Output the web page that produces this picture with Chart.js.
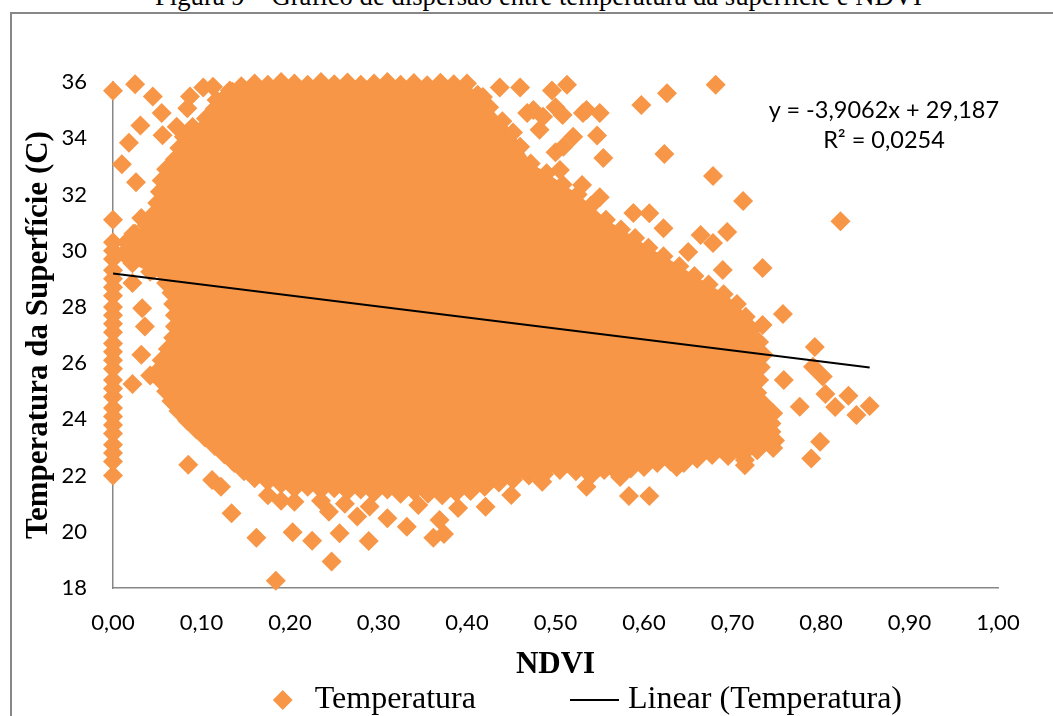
<!DOCTYPE html>
<html lang="pt">
<head>
<meta charset="utf-8">
<title>Temperatura da superfície x NDVI</title>
<script src="https://cdn.jsdelivr.net/npm/chart.js@4.4.1/dist/chart.umd.min.js"></script>
<style>
    html, body { margin: 0; padding: 0; overflow: hidden; background: #fff; }
    #frame { position: absolute; left: 10px; top: 12px; width: 1100px; height: 800px; border: 2px solid #878787; box-sizing: border-box; }
    #caption { position: absolute; left: 0; top: -17px; width: 1077px; text-align: center; white-space: nowrap;
               font: 26.7px/27px "Liberation Serif", "Times New Roman", serif; color: #000; }
    #wrap { position: absolute; left: 0; top: 0; width: 1053px; height: 726px; }
    #equation { position: absolute; left: 759px; top: 94px; width: 250px; text-align: center;
                font: 23.5px/30px Lato, sans-serif; color: #000; }
</style>
</head>
<body>
<div id="frame"></div>
<div id="caption">Figura 9 – Gráfico de dispersão entre temperatura da superfície e NDVI</div>
<div id="wrap"><canvas id="scatterChart"></canvas></div>
<div id="equation">y = -3,9062x + 29,187<br>R² = 0,0254</div>
<script>
// contorno da nuvem densa de pontos (ordem horária)
const edgeNdvi = [
    0.145, 0.16, 0.175, 0.19, 0.205, 0.22, 0.235, 0.25, 0.265, 0.28, 0.295, 0.31, 0.325, 0.34, 0.355, 0.37, 0.385, 0.4,
    0.412, 0.425, 0.44, 0.452, 0.46, 0.472, 0.49, 0.508, 0.525, 0.54, 0.557, 0.574, 0.59, 0.605, 0.622, 0.64, 0.657, 0.673, 0.69,
    0.705, 0.715, 0.722, 0.73, 0.735, 0.732, 0.73, 0.728, 0.735, 0.746, 0.744, 0.744, 0.748, 0.746,
    0.728, 0.714, 0.695, 0.677, 0.66, 0.645, 0.63, 0.615, 0.6, 0.585, 0.57, 0.555, 0.54, 0.523, 0.505, 0.487, 0.47, 0.452,
    0.436, 0.42, 0.404, 0.388, 0.372, 0.356, 0.34, 0.325, 0.31, 0.295, 0.28, 0.265, 0.25, 0.235, 0.22, 0.205, 0.19, 0.175, 0.16,
    0.148, 0.137, 0.126, 0.115, 0.104, 0.094, 0.084, 0.074, 0.066, 0.06, 0.055,
    0.05, 0.055, 0.062, 0.068, 0.07, 0.07, 0.068, 0.066, 0.06, 0.042, 0.022, 0.012, 0.015, 0.025, 0.038, 0.046, 0.05, 0.053,
    0.055, 0.06, 0.07, 0.075, 0.08, 0.09, 0.105, 0.115, 0.125, 0.135
];
const edgeTemp = [
    35.85, 35.95, 35.9, 36.0, 35.95, 35.9, 36.0, 35.92, 35.98, 35.9, 35.95, 36.0, 35.9, 35.96, 35.88, 35.97, 35.92, 35.95,
    35.55, 35.1, 34.6, 34.2, 33.7, 33.1, 32.75, 32.35, 32.0, 31.6, 31.1, 30.75, 30.45, 30.1, 29.8, 29.45, 29.1, 28.8, 28.45,
    28.1, 27.65, 27.2, 26.75, 26.3, 25.85, 25.4, 24.95, 24.55, 24.22, 23.85, 23.56, 23.25, 22.98,
    22.9, 22.55, 22.7, 22.73, 22.6, 22.45, 22.5, 22.45, 22.3, 22.25, 22.1, 22.2, 22.0, 22.15, 22.2, 22.05, 22.0, 21.85,
    21.75, 21.6, 21.45, 21.4, 21.3, 21.35, 21.45, 21.35, 21.5, 21.4, 21.5, 21.45, 21.55, 21.5, 21.6, 21.55, 21.7, 21.8, 21.9,
    22.15, 22.45, 22.75, 23.05, 23.35, 23.65, 23.95, 24.3, 24.65, 25.0, 25.35,
    25.7, 26.1, 26.5, 26.9, 27.3, 27.7, 28.1, 28.5, 28.85, 29.25, 29.55, 29.9, 30.3, 30.6, 30.9, 31.3, 31.7, 32.1,
    32.5, 32.9, 33.25, 33.65, 34.05, 34.4, 34.7, 35.05, 35.4, 35.65
];

// pontos isolados em volta da nuvem
const outNdvi = [
    0.0, 0.025, 0.045, 0.055, 0.031, 0.018, 0.056, 0.01, 0.026, 0.0, 0.032, 0.087, 0.084, 0.102, 0.113, 0.117, 0.132, 0.072,
    0.023, 0.045, 0.022, 0.033, 0.036, 0.032, 0.022, 0.042,
    0.085, 0.112, 0.122, 0.134, 0.162, 0.184, 0.175, 0.19, 0.203, 0.205, 0.225, 0.235, 0.244, 0.247, 0.256, 0.262, 0.276,
    0.289, 0.29, 0.31, 0.332, 0.345, 0.362, 0.369, 0.374, 0.39, 0.421, 0.45, 0.485, 0.535, 0.573, 0.583, 0.606, 0.637, 0.714,
    0.731, 0.789, 0.799, 0.776, 0.805, 0.816, 0.831, 0.84, 0.855, 0.758, 0.791, 0.802, 0.793, 0.734, 0.757, 0.734, 0.689,
    0.65, 0.678, 0.622, 0.664, 0.694, 0.588, 0.606, 0.55, 0.712, 0.822, 0.53, 0.505, 0.678, 0.554, 0.5, 0.509, 0.623, 0.482,
    0.52, 0.547, 0.468, 0.486, 0.475, 0.5, 0.508, 0.531, 0.535, 0.55, 0.597, 0.418, 0.437, 0.46, 0.496, 0.513, 0.626, 0.681
];
const outTemp = [
    35.69, 35.92, 35.48, 34.9, 34.45, 33.84, 34.11, 33.07, 32.43, 31.1, 31.16, 35.48, 35.07, 35.8, 35.83, 35.36, 35.7, 34.41,
    30.6, 29.3, 28.85, 27.95, 27.3, 26.3, 25.26, 25.56,
    22.38, 21.84, 21.6, 20.66, 19.79, 18.26, 21.3, 21.1, 19.98, 21.07, 19.68, 21.1, 20.71, 18.94, 19.95, 21.0, 20.54,
    19.67, 20.9, 20.48, 20.18, 20.95, 19.79, 20.42, 19.92, 20.85, 20.89, 21.31, 21.78, 21.6, 21.95, 21.27, 21.27, 22.3, 22.37,
    23.37, 22.61, 23.2, 24.45, 24.9, 24.44, 24.84, 24.15, 24.47, 25.4, 25.87, 25.52, 26.57, 27.36, 27.75, 29.38, 29.31,
    29.95, 30.27, 30.8, 30.56, 30.66, 31.34, 31.33, 31.9, 31.77, 31.05, 32.34, 32.87, 32.66, 33.3, 33.5, 33.7, 33.44, 34.3,
    34.05, 34.1, 34.9, 34.76, 35.0, 35.1, 34.83, 34.9, 35.0, 34.9, 35.18, 35.47, 35.8, 35.8, 35.7, 35.9, 35.6, 35.9
];

// coluna de pontos com NDVI = 0
const zeroTemp = [22.0, 22.5, 22.8, 23.1, 23.5, 23.8, 24.1, 24.4, 24.8, 25.1, 25.4, 25.8, 26.1, 26.4, 26.7,
    27.1, 27.4, 27.7, 28.0, 28.4, 28.7, 29.0, 29.3, 29.7, 30.0, 30.3];

const ndviLabels = ['0,00', '0,10', '0,20', '0,30', '0,40', '0,50', '0,60', '0,70', '0,80', '0,90', '1,00'];
const tempTicks = [18, 20, 22, 24, 26, 28, 30, 32, 34, 36];

// linha de tendencia (Excel)
const slope = -3.9062;
const intercept = 29.187;
const trendNdvi = [0, 0.855];

const orange = '#F79646';

function toPoints(xs, ys) {
    return xs.map(function(x, i) { return { x: x, y: ys[i] }; });
}

const edgePoints = toPoints(edgeNdvi, edgeTemp);
const allPoints = edgePoints
    .concat(toPoints(outNdvi, outTemp))
    .concat(zeroTemp.map(function(t) { return { x: 0, y: t }; }));
const cloudShape = edgePoints.concat([edgePoints[0]]);
const trendPoints = trendNdvi.map(function(x) { return { x: x, y: intercept + slope * x }; });

// simbolo de linha para a legenda
const lineMark = document.createElement('canvas');
lineMark.width = 52;
lineMark.height = 4;
const lctx = lineMark.getContext('2d');
lctx.fillStyle = '#000';
lctx.fillRect(0, 1, 49, 2);

const serif = '"Liberation Serif", "Times New Roman", serif';

const ctx = document.getElementById('scatterChart').getContext('2d');
new Chart(ctx, {
    type: 'scatter',
    data: {
        datasets: [{
            label: 'Temperatura',
            data: allPoints,
            pointStyle: 'rectRot',
            pointRadius: 10,
            pointHoverRadius: 10,
            backgroundColor: orange,
            borderWidth: 0,
            clip: false,
            order: 1
        }, {
            label: '',
            data: cloudShape,
            showLine: true,
            fill: 'shape',
            tension: 0,
            backgroundColor: orange,
            borderColor: orange,
            borderWidth: 1,
            pointRadius: 0,
            pointHoverRadius: 0,
            order: 2
        }, {
            label: 'Linear (Temperatura)',
            data: trendPoints,
            showLine: true,
            borderColor: '#000',
            borderWidth: 2,
            pointRadius: 0,
            pointHoverRadius: 0,
            pointStyle: 'line',
            order: 0
        }]
    },
    options: {
        responsive: true,
        maintainAspectRatio: false,
        animation: false,
        events: [],
        layout: { padding: { top: 82, right: 55, left: 0, bottom: 0 } },
        scales: {
            x: {
                type: 'linear',
                min: 0,
                max: 1,
                grid: { display: false, drawTicks: false },
                border: { display: true, color: '#878787', width: 1.5 },
                ticks: {
                    stepSize: 0.1,
                    padding: 22,
                    color: '#000',
                    font: { family: 'Lato', size: 22 },
                    callback: function(value) { return ndviLabels[Math.round(value * 10)]; }
                },
                title: {
                    display: true,
                    text: 'NDVI',
                    color: '#000',
                    padding: 0,
                    font: { family: serif, size: 31, weight: 'bold' }
                },
                afterFit: function(scale) { scale.height = 96; }
            },
            y: {
                min: tempTicks[0],
                max: tempTicks[tempTicks.length - 1],
                grid: { display: false, drawTicks: false },
                border: { display: true, color: '#878787', width: 1.5 },
                ticks: {
                    stepSize: 2,
                    padding: 26,
                    color: '#000',
                    font: { family: 'Lato', size: 22 }
                },
                title: {
                    display: true,
                    text: 'Temperatura da Superfície (C)',
                    color: '#000',
                    padding: { top: 20, bottom: 0 },
                    font: { family: serif, size: 31, weight: 'bold' }
                },
                afterFit: function(scale) { scale.width = 113; }
            }
        },
        plugins: {
            tooltip: { enabled: false },
            legend: {
                position: 'bottom',
                align: 'end',
                fullSize: false,
                labels: {
                    usePointStyle: true,
                    boxWidth: 32,
                    boxHeight: 14,
                    padding: 0,
                    color: '#000',
                    font: { family: serif, size: 32 },
                    generateLabels: function(chart) {
                        const items = Chart.defaults.plugins.legend.labels.generateLabels(chart)
                            .filter(function(item) { return item.datasetIndex !== 1; })
                            .sort(function(a, b) { return a.datasetIndex - b.datasetIndex; });
                        items[0].text = 'Temperatura' + ' '.repeat(13);
                        items[1].text = 'Linear (Temperatura)' + ' '.repeat(12);
                        items[1].pointStyle = lineMark;
                        return items;
                    }
                }
            }
        }
    }
});
</script>
</body>
</html>
